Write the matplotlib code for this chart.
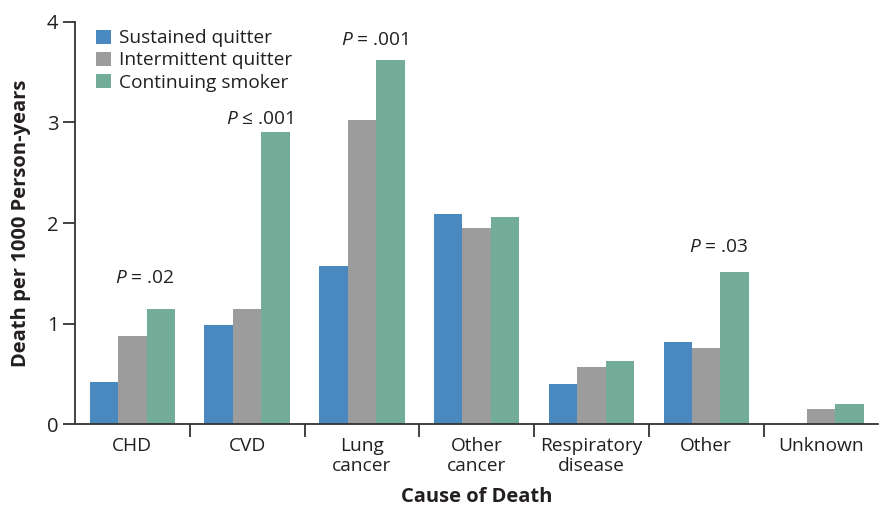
import numpy as np
import matplotlib.pyplot as plt

causes = ["CHD", "CVD", "Lung\ncancer", "Other\ncancer", "Respiratory\ndisease", "Other", "Unknown"]
sustained = [0.42, 0.99, 1.57, 2.09, 0.40, 0.82, 0.0]
intermittent = [0.88, 1.145, 3.02, 1.95, 0.57, 0.76, 0.15]
continuing = [1.145, 2.90, 3.625, 2.06, 0.63, 1.51, 0.20]
series_names = ["Sustained quitter", "Intermittent quitter", "Continuing smoker"]
colors = ["#4a89bf", "#9d9c9d", "#73ac98"]

# p-value labels: (category index, text, y position)
pvals = [(0, r"$\it{P}$ = .02", 1.36), (1, r"$\it{P}$ ≤ .001", 2.94),
         (2, r"$\it{P}$ = .001", 3.73), (5, r"$\it{P}$ = .03", 1.67)]

plt.rcParams["font.family"] = ["Open Sans", "DejaVu Sans"]
plt.rcParams["mathtext.fontset"] = "custom"
plt.rcParams["mathtext.it"] = "Open Sans:italic"
plt.rcParams["mathtext.rm"] = "Open Sans"

fig = plt.figure(figsize=(8.8, 5.08), dpi=100)
ax = fig.add_axes([0.0852, 0.165, 0.913, 0.792])

x = np.arange(len(causes))
w = 0.248
for i, vals in enumerate([sustained, intermittent, continuing]):
    ax.bar(x + (i - 1) * w, vals, w, color=colors[i], label=series_names[i], linewidth=0)

for idx, txt, yy in pvals:
    ax.text(idx + 0.11, yy, txt, ha="center", va="bottom", fontsize=13.8, color="#231f20")

ax.set_xlim(-0.5, len(causes) - 0.5)
ax.set_ylim(0, 4)
ax.set_yticks([0, 1, 2, 3, 4])
ax.set_xticks(x)
ax.set_xticklabels(causes, fontsize=13.8, color="#231f20", linespacing=1.2)
ax.set_xticks(np.arange(0.5, len(causes) - 1, 1), minor=True)
ax.tick_params(axis="x", which="major", length=0, pad=9)
ax.tick_params(axis="x", which="minor", length=9, width=1.3, color="#333333")
ax.tick_params(axis="y", length=9, width=1.3, color="#333333", labelsize=14.5, labelcolor="#231f20", pad=3)

for s in ["top", "right"]:
    ax.spines[s].set_visible(False)
for s in ["left", "bottom"]:
    ax.spines[s].set_linewidth(1.3)
    ax.spines[s].set_color("#333333")

ax.set_ylabel("Death per 1000 Person-years", fontsize=14.5, fontweight="bold", color="#231f20", labelpad=11)
ax.set_xlabel("Cause of Death", fontsize=14.5, fontweight="bold", color="#231f20", labelpad=8)

leg = ax.legend(loc="upper left", bbox_to_anchor=(0.01, 1.015), frameon=False, fontsize=13.8,
                handlelength=0.75, handleheight=0.75, handletextpad=0.45, labelspacing=0.22,
                borderaxespad=0.3)
for t in leg.get_texts():
    t.set_color("#231f20")

fig.savefig("out.png", dpi=100)
